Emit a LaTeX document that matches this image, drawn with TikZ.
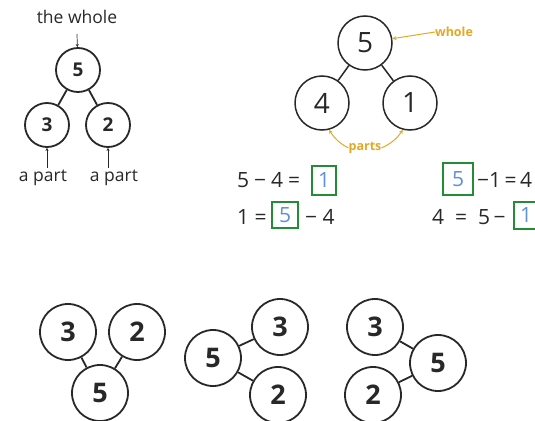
\documentclass[tikz,border=0pt]{standalone}
\usepackage{fontspec}
\setmainfont{Open Sans}
\usetikzlibrary{arrows.meta}
\definecolor{warm}{RGB}{228,168,35}
\definecolor{boxgreen}{RGB}{35,140,55}
\definecolor{numblue}{RGB}{95,145,215}
\definecolor{ink}{RGB}{40,40,40}
\begin{document}
\begin{tikzpicture}[x=1pt,y=-1pt,
  tlcirc/.style={circle,draw=ink,line width=1.8pt,minimum size=44pt,inner sep=0pt,text=ink,font=\fontsize{19}{19}\selectfont\bfseries},
  trcirc/.style={circle,draw=ink,line width=1.5pt,minimum size=54pt,inner sep=0pt,text=ink,font=\fontsize{28}{28}\selectfont},
  btcirc/.style={circle,draw=ink,line width=1.8pt,minimum size=56pt,inner sep=0pt,text=ink,font=\fontsize{27}{27}\selectfont\bfseries},
  link/.style={draw=ink,line width=1.8pt},
  lbl/.style={text=ink,font=\fontsize{17.5}{17.5}\selectfont,inner sep=0pt},
  warmlbl/.style={text=warm,font=\fontsize{12.5}{12.5}\selectfont\bfseries,inner sep=0pt},
  warmarrow/.style={draw=warm,line width=1pt,-{Stealth[length=4pt,width=4pt]}},
  smallarrow/.style={draw=ink,line width=0.7pt,-{Stealth[length=3pt,width=3pt]}},
  eqtext/.style={text=ink,font=\fontsize{21}{21}\selectfont,inner sep=0pt,anchor=base west},
  gbox/.style={draw=boxgreen,line width=2pt,inner sep=0pt,text=numblue,font=\fontsize{21}{21}\selectfont},
]
\useasboundingbox (0,0) rectangle (535,420);

% top-left bond
\node[lbl] (whole) at (77,17) {the whole};
\node[tlcirc] (a5) at (78,70) {5};
\node[tlcirc] (a3) at (47,125) {3};
\node[tlcirc] (a2) at (108,125) {2};
\draw[link] (a5) -- (a3);
\draw[link] (a5) -- (a2);
\coordinate (wtop) at (77,34);
\draw[smallarrow] (wtop) -- (a5);
\node[lbl] (p1) at (43,178) {a part};
\node[lbl] (p2) at (114,178) {a part};
\draw[smallarrow] ([yshift=2pt]p1.north -| a3) -- (a3);
\draw[smallarrow] ([yshift=2pt]p2.north -| a2) -- (a2);

% top-right bond
\node[trcirc] (b5) at (365,43) {5};
\node[trcirc] (b4) at (322,103) {4};
\node[trcirc] (b1) at (410,103) {1};
\draw[link,line width=1.5pt] (b5) -- (b4);
\draw[link,line width=1.5pt] (b5) -- (b1);
\node[warmlbl] (wl) at (454,32) {whole};
\draw[warmarrow] (wl.west) -- (b5);
\node[warmlbl] (pl) at (365,148) {parts};
\draw[warmarrow] (pl.west) to[bend left=15] (b4.-75);
\draw[warmarrow] (pl.east) to[bend right=15] (b1.-105);

% equations
\node[eqtext] (e1) at (237,187) {5\hspace{5pt}−\hspace{5pt}4\hspace{5pt}=};
\node[gbox,minimum width=24pt,minimum height=29pt] (g1) at (324,180) {1};
\node[eqtext] (e2) at (237,224) {1 =};
\node[gbox,minimum width=26pt,minimum height=26pt] (g2) at (285,215) {5};
\node[eqtext] (e2b) at (305,224) {− 4};
\node[gbox,minimum width=30pt,minimum height=32pt] (g3) at (458,179) {5};
\node[eqtext] (e3) at (477,187) {−1\,=\,4};
\node[eqtext] (e4) at (432,224) {4\ \ =\ \ 5\,−};
\node[gbox,minimum width=24pt,minimum height=27pt] (g4) at (526,215) {1};

% bottom bonds
\node[btcirc] (c3) at (68,332) {3};
\node[btcirc] (c2) at (137,332) {2};
\node[btcirc] (c5) at (100,393) {5};
\draw[link] (c5) -- (c3);
\draw[link] (c5) -- (c2);

\node[btcirc] (d5) at (213,358) {5};
\node[btcirc] (d3) at (280,327) {3};
\node[btcirc] (d2) at (278,395) {2};
\draw[link] (d5) -- (d3);
\draw[link] (d5) -- (d2);

\node[btcirc] (f3) at (375,327) {3};
\node[btcirc] (f5) at (438,363) {5};
\node[btcirc] (f2) at (373,395) {2};
\draw[link] (f5) -- (f3);
\draw[link] (f5) -- (f2);
\end{tikzpicture}
\end{document}
